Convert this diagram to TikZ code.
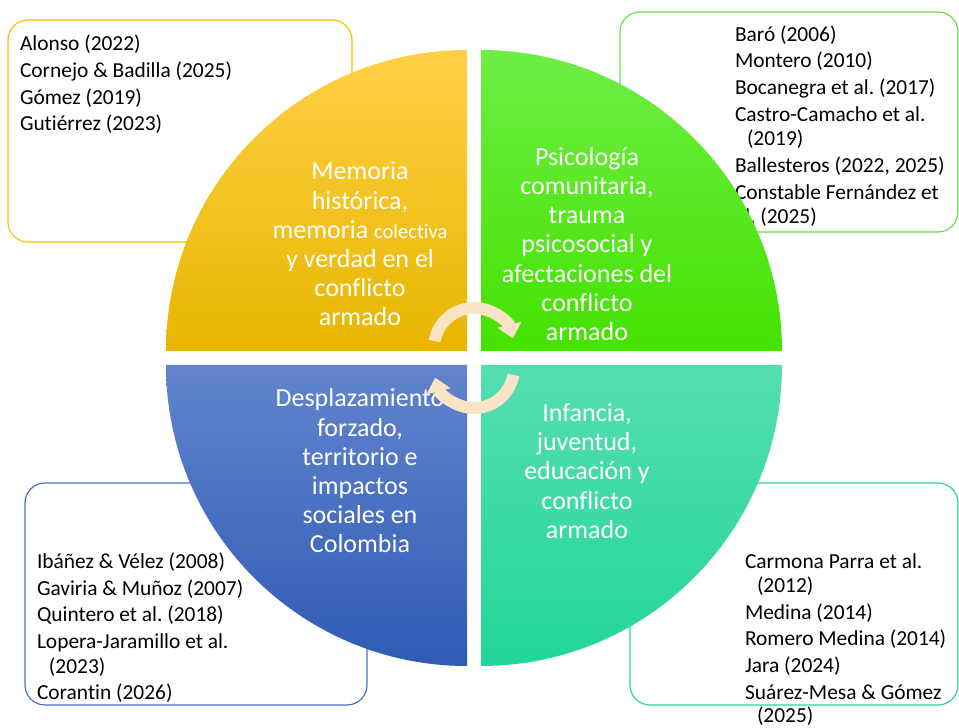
\documentclass[tikz,border=0pt]{standalone}
\usepackage{fontspec}
\setmainfont{Carlito}[Ligatures=NoCommon]
\usepackage{xcolor}
\usetikzlibrary{arrows.meta}
\frenchspacing

\definecolor{amarillo}{RGB}{255,192,0}
\definecolor{amarilloA}{RGB}{255,208,70}
\definecolor{amarilloB}{RGB}{232,182,0}
\definecolor{verde}{RGB}{102,224,70}
\definecolor{verdeA}{RGB}{110,238,70}
\definecolor{verdeB}{RGB}{68,226,0}
\definecolor{azul}{RGB}{68,114,196}
\definecolor{azulA}{RGB}{98,132,206}
\definecolor{azulB}{RGB}{47,91,180}
\definecolor{turquesa}{RGB}{44,214,152}
\definecolor{turquesaA}{RGB}{86,222,176}
\definecolor{turquesaB}{RGB}{34,214,154}
\definecolor{crema}{RGB}{250,228,198}

\begin{document}
\begin{tikzpicture}[
		    x=1pt, y=1pt,
		    every node/.style={inner sep=0pt, outer sep=0pt}
		]
		\tikzset{
		    caja/.style={rounded corners=20pt, line width=1.2pt, fill=white},
		    autores/.style={anchor=base west, align=left, text=black, font=\fontsize{21.4}{26.7}\selectfont\frenchspacing},
		    tema/.style={align=center, text=white, font=\fontsize{26}{29.2}\selectfont},
		    flecha/.style={line width=12pt, draw=crema, -{Triangle[width=24pt, length=14pt]}}
		}
		\useasboundingbox (0,0) rectangle (959,728);
		% cajas de autores
		\draw[caja, draw=amarillo] (8,486) rectangle (352,708);
		\draw[caja, draw=verde] (620,496) rectangle (958,716);
		\draw[caja, draw=azul] (25,23) rectangle (367,245);
		\draw[caja, draw=turquesa] (630,23) rectangle (958,245);
		\node[autores] (refMemoria) at (20,597) {Alonso (2022)\\Cornejo \& Badilla (2025)\\Gómez (2019)\\Gutiérrez (2023)};
		\node[autores] (refPsico) at (735,504) {Baró (2006)\\Montero (2010)\\Bocanegra et al. (2017)\\Castro-Camacho et al.\\[-2pt]
		    \hspace*{12pt}(2019)\\Ballesteros (2022, 2025)\\Constable Fernández et\\[-2pt]al. (2025)};
		\node[autores] (refDespl) at (37,28) {Ibáñez \& Vélez (2008)\\Gaviria \& Muñoz (2007)\\Quintero et al. (2018)\\Lopera-Jaramillo et al.\\[-2pt]
		    \hspace*{12pt}(2023)\\Corantin (2026)};
		\node[autores] (refInfancia) at (745,5) {Carmona Parra et al.\\[-3pt]\hspace*{12pt}(2012)\\Medina (2014)\\Romero Medina (2014)\\Jara (2024)\\
		    Suárez-Mesa \& Gómez\\[-3pt]\hspace*{12pt}(2025)};
		% circulo en cuatro partes
		\shade[top color=amarilloA, bottom color=amarilloB] (467,377) -- ++(-301,0) arc[start angle=180, end angle=90, radius=301] -- cycle;
		\shade[top color=verdeA, bottom color=verdeB] (481,377) -- ++(0,301) arc[start angle=90, end angle=0, radius=301] -- cycle;
		\shade[top color=turquesaA, bottom color=turquesaB] (481,363) -- ++(301,0) arc[start angle=0, end angle=-90, radius=301] -- cycle;
		\shade[top color=azulA, bottom color=azulB] (467,363) -- ++(0,-301) arc[start angle=270, end angle=180, radius=301] -- cycle;
		\node[tema] (memoria) at (360,484) {Memoria\\histórica,\\memoria {\fontsize{20.5}{22}\selectfont colectiva}\\y verdad en el\\conflicto\\armado};
		\node[tema] (psicologia) at (587,484) {Psicología\\comunitaria,\\trauma\\psicosocial y\\afectaciones del\\conflicto\\armado};
		\node[tema] (desplazamiento) at (360,257) {Desplazamiento\\forzado,\\territorio e\\impactos\\sociales en\\Colombia};
		\node[tema] (infancia) at (587,257) {Infancia,\\juventud,\\educación y\\conflicto\\armado};
		% flechas circulares
		\coordinate (ejeA) at (474,380);
		\coordinate (ejeB) at (474,360);
		\draw[flecha] (ejeA) ++(170:40) arc[start angle=170, end angle=14, radius=40];
		\draw[flecha] (ejeB) ++(-10:40) arc[start angle=-10, end angle=-166, radius=40];
		\end{tikzpicture}
\end{document}
